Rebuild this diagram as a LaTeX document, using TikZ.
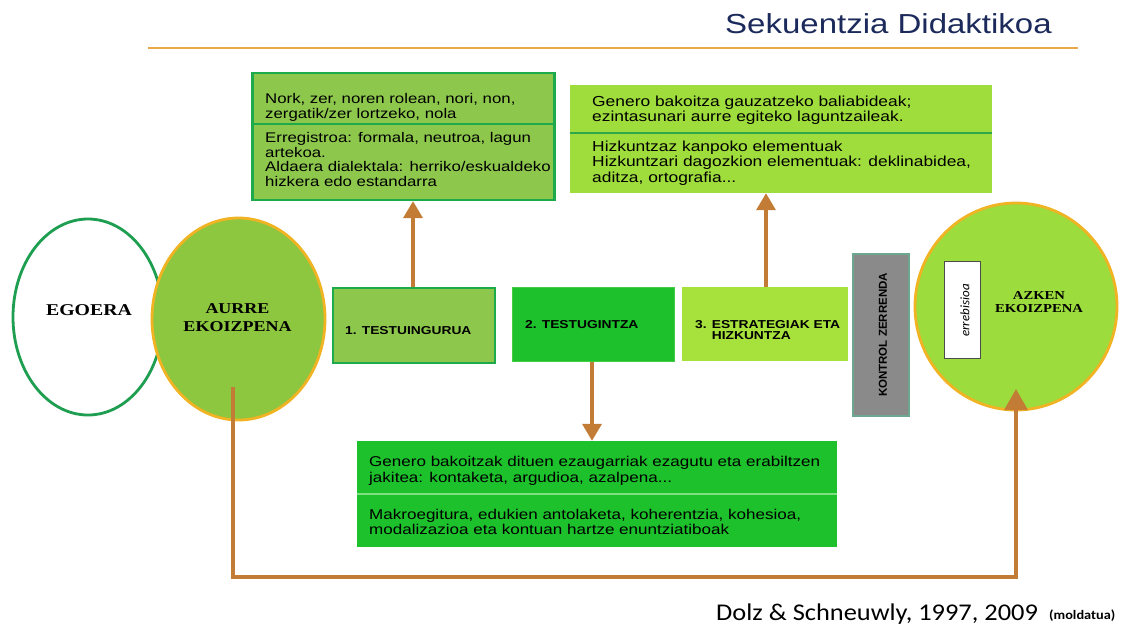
\documentclass[tikz,border=0pt]{standalone}
\usepackage{fontspec}
\setmainfont{Liberation Sans}
\newfontfamily\widesans[FakeStretch=1.2]{Liberation Sans}
\newfontfamily\wideserif[FakeStretch=1.2]{Liberation Serif}
\newfontfamily\calib[FakeStretch=1.1]{Carlito}
\newfontfamily\calibplain{Carlito}
\usetikzlibrary{arrows.meta,shapes.geometric}
\definecolor{gA}{HTML}{8DC84D}
\definecolor{gAb}{HTML}{1DAA4A}
\definecolor{gB}{HTML}{9FDD3D}
\definecolor{gBd}{HTML}{2EA84A}
\definecolor{gBright}{HTML}{1DC12B}
\definecolor{gBrightb}{HTML}{45CC45}
\definecolor{gC}{HTML}{7EE07E}
\definecolor{g3}{HTML}{A6E13C}
\definecolor{aurreF}{HTML}{8DC63F}
\definecolor{azkenF}{HTML}{9CDC3C}
\definecolor{goldb}{HTML}{F0B323}
\definecolor{egb}{HTML}{1E9E50}
\definecolor{kontF}{HTML}{8A8A8A}
\definecolor{kontB}{HTML}{6CA88F}
\definecolor{brownA}{HTML}{C27C35}
\definecolor{navy}{HTML}{1B2A5A}
\definecolor{orangeL}{HTML}{EBA848}
\begin{document}
\begin{tikzpicture}[x=1pt,y=-1pt,
  boxbase/.style={rectangle,inner sep=0pt},
  txt/.style={inner sep=0pt,align=left,anchor=north west},
  lbl/.style={inner sep=0pt,align=left,font=\fontsize{11.5}{11}\selectfont\widesans\bfseries},
  ell/.style={ellipse,inner sep=0pt,line width=2.8pt},
  arr/.style={draw=brownA,line width=3.5pt,-{Triangle[width=19pt,length=17pt]}},
  bigarr/.style={draw=brownA,line width=3.5pt,-{Triangle[width=23pt,length=21pt]}},
  ln/.style={draw=brownA,line width=3.5pt}]
\useasboundingbox (0,0) rectangle (1145,625);
\fill[white] (0,0) rectangle (1145,625);

% title
\node[anchor=west,inner sep=0pt,text=navy,font=\fontsize{27.5}{30}\selectfont\widesans] (title) at (725,24) {Sekuentzia Didaktikoa};
\coordinate (tl1) at (148,48);
\coordinate (tl2) at (1078,48);
\draw[orangeL,line width=2pt] (tl1) -- (tl2);

% top-left box
\node[boxbase,fill=gA,draw=gAb,line width=2.2pt,minimum width=302pt,minimum height=127pt] (A) at (403.5,136.5) {};
\draw[gAb,line width=1.6pt] (A.west |- 0,124) -- (A.east |- 0,124);
\node[txt,font=\fontsize{14}{14.8}\selectfont\widesans] (A1) at (265,93) {Nork, zer, noren rolean, nori, non,\\zergatik/zer lortzeko, nola};
\node[txt,font=\fontsize{14}{14.8}\selectfont\widesans] (A2) at (265,132) {Erregistroa: formala, neutroa, lagun\\artekoa.\\Aldaera dialektala: herriko/eskualdeko\\hizkera edo estandarra};

% top-right box
\node[boxbase,fill=gB,minimum width=422pt,minimum height=108pt] (B) at (781,139) {};
\draw[gBd,line width=1.5pt] (B.west |- 0,133) -- (B.east |- 0,133);
\node[txt,font=\fontsize{14.5}{15.5}\selectfont\widesans] (B1) at (592,95.5) {Genero bakoitza gauzatzeko baliabideak;\\ezintasunari aurre egiteko laguntzaileak.};
\node[txt,font=\fontsize{14.5}{15.5}\selectfont\widesans] (B2) at (592,140.5) {Hizkuntzaz kanpoko elementuak\\Hizkuntzari dagozkion elementuak: deklinabidea,\\aditza, ortografia...};

% ellipses
\node[ell,draw=egb,fill=white,minimum width=150pt,minimum height=196pt] (ego) at (88,317) {};
\node[font=\fontsize{16.5}{18}\selectfont\wideserif\bfseries,inner sep=0pt] (egot) at (89,310) {EGOERA};
\node[ell,draw=goldb,fill=aurreF,minimum width=173pt,minimum height=202pt] (aurre) at (238.5,319) {};
\node[font=\fontsize{15}{18}\selectfont\wideserif\bfseries,inner sep=0pt,align=center] (aurret) at (237.5,318) {AURRE\\EKOIZPENA};

% middle boxes
\node[boxbase,fill=gA,draw=gAb,line width=2.2pt,minimum width=162pt,minimum height=75pt] (b1) at (414,325.5) {};
\node[lbl,anchor=west] (b1t) at (345,331) {1. TESTUINGURUA};
\node[boxbase,fill=gBright,draw=gBrightb,line width=1pt,minimum width=162pt,minimum height=74pt] (b2) at (593,324) {};
\node[lbl,anchor=west] (b2t) at (525,325) {2. TESTUGINTZA};
\node[boxbase,fill=g3,minimum width=166pt,minimum height=74pt] (b3) at (765,324) {};
\node[lbl,anchor=west] (b3t) at (695,330) {3. ESTRATEGIAK ETA\\\phantom{3. }HIZKUNTZA};

% kontrol
\node[boxbase,fill=kontF,draw=kontB,line width=1.2pt,minimum width=56pt,minimum height=162pt] (kont) at (881,335) {};
\node[rotate=90,inner sep=0pt,font=\fontsize{11.5}{13}\selectfont\bfseries] (kontt) at (883,335) {KONTROL ZERRENDA};

% azken
\node[ell,draw=goldb,fill=azkenF,minimum width=202pt,minimum height=207pt] (azken) at (1016,306.5) {};
\node[boxbase,fill=white,draw=black!70,line width=0.8pt,minimum width=36pt,minimum height=97pt] (err) at (962,309.5) {};
\node[rotate=90,inner sep=0pt,font=\fontsize{13}{14}\selectfont\calibplain\itshape] (errt) at (965,310.5) {errebisioa};
\node[font=\fontsize{12.2}{12.5}\selectfont\wideserif\bfseries,inner sep=0pt,align=center] (azkent) at (1039,302) {AZKEN\\EKOIZPENA};

% bottom box
\node[boxbase,fill=gBright,minimum width=480pt,minimum height=106pt] (C) at (597,494) {};
\draw[gC,line width=1.5pt] (C.west |- 0,494) -- (C.east |- 0,494);
\node[txt,font=\fontsize{14.2}{16}\selectfont\widesans] (C1) at (369,455.5) {Genero bakoitzak dituen ezaugarriak ezagutu eta erabiltzen\\jakitea: kontaketa, argudioa, azalpena...};
\node[txt,font=\fontsize{14.2}{15.5}\selectfont\widesans] (C2) at (369,508.5) {Makroegitura, edukien antolaketa, koherentzia, kohesioa,\\modalizazioa eta kontuan hartze enuntziatiboak};

% arrows
\draw[arr] (b1.north -| 413,0) -- (A.south -| 413,0);
\draw[arr] (b3.north -| 766,0) -- (B.south -| 766,0);
\draw[arr] (b2.south -| 592,0) -- (C.north -| 592,0);
\coordinate (s) at (233,387);
\coordinate (e) at (1016,389);
\draw[ln] (s) -- (233,577) -- (1017.75,577);
\draw[bigarr] (1016,578.75) -- (e);

% citation
\node[anchor=base west,inner sep=0pt,font=\fontsize{24}{26}\selectfont\calib] (cit) at (716,620) {Dolz \& Schneuwly, 1997, 2009};
\node[anchor=base west,inner sep=0pt,font=\fontsize{13}{14}\selectfont\calib\bfseries] (mold) at (1049,619) {(moldatua)};
\end{tikzpicture}
\end{document}
